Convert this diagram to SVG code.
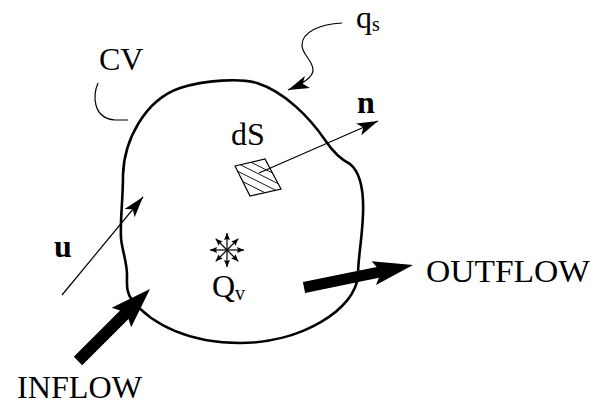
<svg xmlns="http://www.w3.org/2000/svg" width="608" height="410" viewBox="0 0 608 410">
<style>
.t{font-family:"Liberation Serif","Times New Roman",serif;font-size:32px;fill:#000}
.b{font-weight:bold}
.sub{font-size:20px}
.thin{fill:none;stroke:#000;stroke-width:1.2}
.outline{fill:none;stroke:#000;stroke-width:2.6;stroke-linejoin:round}
.fat{fill:#000;stroke:none}
</style>
<defs>
<marker id="ah" markerUnits="userSpaceOnUse" markerWidth="30" markerHeight="20" viewBox="-22 -10 24 20" refX="0" refY="0" orient="auto">
<path d="M0,0 L-21,-6.5 L-16,0 L-21,6.5 Z" fill="#000"/>
</marker>
<marker id="sh" markerUnits="userSpaceOnUse" markerWidth="10" markerHeight="10" viewBox="-8 -5 9 10" refX="0" refY="0" orient="auto">
<path d="M0,0 L-7,-3 L-6,0 L-7,3 Z" fill="#000"/>
</marker>
<clipPath id="sq"><polygon points="235,166 265,159 281,189 250,196"/></clipPath>
</defs>

<g id="cv">
<path class="outline" d="M257,83 C285,92 310,118 325,140 C333,152 342,160 350,164 C360,172 364,190 363,215 C362,240 358,258 358,275 C356,310 300,343 240,343 C190,343 152,325 132,300 C126,292 127,285 127,275 C127,262 122,250 121,238 C120,220 123,200 123,175 C124,140 145,100 180,88 C205,80 240,78 257,83 Z"/>
</g>

<g id="cv-label">
<text class="t" x="99" y="70">CV</text>
<path class="thin" d="M98,83 C93,95 92,118 115,120 L128,120"/>
</g>

<g id="qs-label">
<text class="t" x="356" y="28" font-size="29">q<tspan class="sub" dy="3">s</tspan></text>
</g>

<g id="dS">
<text class="t" x="231" y="145">dS</text>
<g clip-path="url(#sq)" stroke="#000" stroke-width="0.9">
<line x1="235.9" y1="154.7" x2="289.5" y2="181.5"/>
<line x1="232.8" y1="161" x2="286.4" y2="187.8"/>
<line x1="229.6" y1="167.2" x2="283.2" y2="194"/>
<line x1="226.5" y1="173.5" x2="280.1" y2="200.3"/>
</g>
<polygon points="235,166 265,159 281,189 250,196" fill="none" stroke="#000" stroke-width="1.2"/>
</g>

<g id="n-label"><text class="t b" x="357" y="113">n</text></g>
<g id="u-label"><text class="t b" x="54" y="257">u</text></g>

<g id="Qv">
<g class="thin" stroke-width="1.5" marker-end="url(#sh)">
<line x1="227" y1="250" x2="244" y2="250"/>
<line x1="227" y1="250" x2="210" y2="250"/>
<line x1="227" y1="250" x2="227" y2="233"/>
<line x1="227" y1="250" x2="227" y2="267"/>
<line x1="227" y1="250" x2="238.3" y2="238.7"/>
<line x1="227" y1="250" x2="215.7" y2="238.7"/>
<line x1="227" y1="250" x2="238.3" y2="261.3"/>
<line x1="227" y1="250" x2="215.7" y2="261.3"/>
</g>
<text class="t" x="212" y="297" font-size="34">Q<tspan class="sub" dy="3">v</tspan></text>
</g>

<g id="inflow">
<text class="t" x="17" y="398" textLength="125" lengthAdjust="spacingAndGlyphs">INFLOW</text>
</g>
<g id="outflow">
<text class="t" x="426" y="282" textLength="164" lengthAdjust="spacingAndGlyphs">OUTFLOW</text>
</g>

<g id="connectors">
<path class="thin" d="M342,23 C320,24 302,32 302,45 C302,55 313,60 313,70 C313,78 300,85 288,90" marker-end="url(#ah)"/>
<line class="thin" x1="259" y1="173" x2="378" y2="121" marker-end="url(#ah)"/>
<line class="thin" x1="62" y1="295" x2="143" y2="197" marker-end="url(#ah)"/>
<polygon class="fat" points="82.2,365.2 128.5,318.9 131.2,327.3 150,289 111.7,307.8 120.1,310.5 73.8,356.8"/>
<polygon class="fat" points="305.1,292.9 378.9,277.7 376,284.9 413,265 371.6,261.3 376.7,266.9 302.9,282.1"/>
</g>
</svg>
